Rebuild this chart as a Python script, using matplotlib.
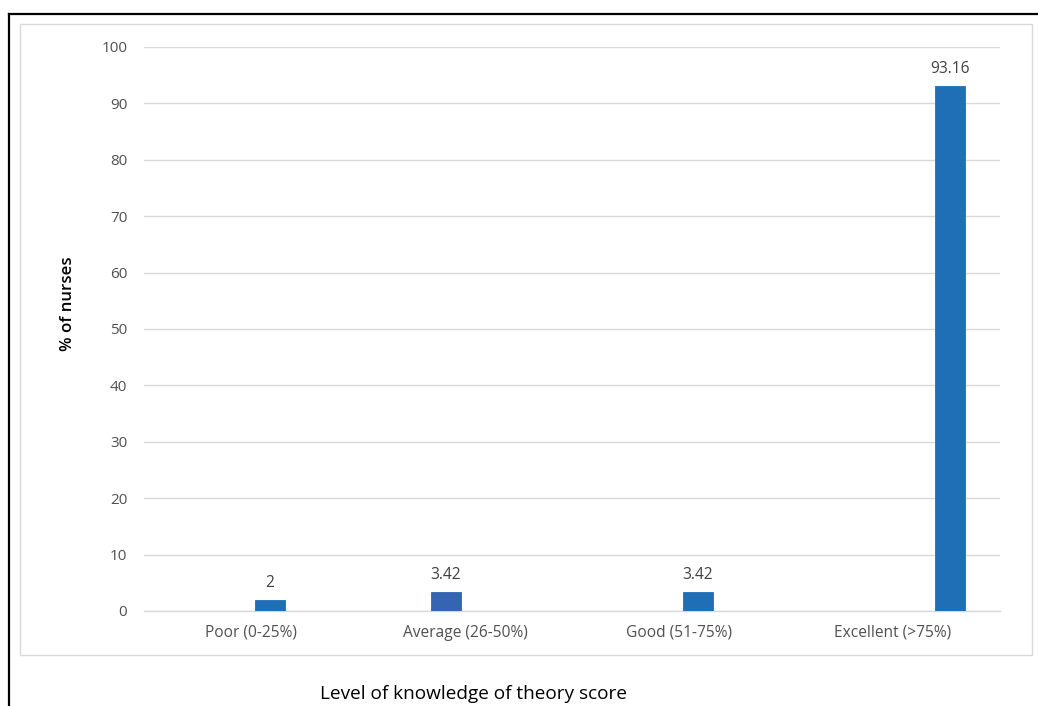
import matplotlib
matplotlib.use("Agg")
import matplotlib.pyplot as plt
from matplotlib.patches import Rectangle
from matplotlib.lines import Line2D
import numpy as np

plt.rcParams['font.family'] = ['Open Sans', 'DejaVu Sans']

# Knowledge levels and the clustered-series layout of the source workbook
categories = ["Poor (0-25%)", "Average (26-50%)", "Good (51-75%)", "Excellent (>75%)"]
series_1 = [None, None, None, None]
series_2 = [None, 3.42, None, None]
series_3 = [2, None, 3.42, None]
series_4 = [None, None, None, 93.16]
series_colors = ["#1F6FB7", "#3464B2", "#1F6FB7", "#1F6FB7"]
y_ticks = list(range(0, 101, 10))

W, H = 1038, 706
fig = plt.figure(figsize=(W / 100, H / 100), dpi=100)

ax = fig.add_axes([144 / W, 1 - 611 / H, (1000 - 144) / W, (611 - 47) / H])

all_series = [series_1, series_2, series_3, series_4]
n = len(all_series)
slot = 0.1776
bar_w = 0.14
x = np.arange(len(categories))
for k, (vals, col) in enumerate(zip(all_series, series_colors)):
    offset = (k - (n - 1) / 2) * slot
    for i, v in enumerate(vals):
        if v is None:
            continue
        ax.bar(x[i] + offset, v, width=bar_w, color=col, edgecolor=col,
               linewidth=0.6, zorder=3)
        ax.text(x[i] + offset, v + 1.5, f"{v:g}", ha="center", va="bottom",
                fontsize=11.2, color="#404040", zorder=4)

ax.set_xlim(-0.5, len(categories) - 0.5)
ax.set_ylim(0, 100)
ax.set_yticks(y_ticks)
ax.set_yticklabels([str(t) for t in y_ticks], fontsize=11, color="#505050")
ax.set_xticks(x)
ax.set_xticklabels(categories, fontsize=11.2, color="#505050")
ax.tick_params(axis="both", length=0)
ax.tick_params(axis="y", pad=12)
ax.tick_params(axis="x", pad=10)
ax.grid(axis="y", color="#D9D9D9", linewidth=1, zorder=0)
ax.set_axisbelow(True)
for s in ["top", "right", "left"]:
    ax.spines[s].set_visible(False)
ax.spines["bottom"].set_color("#D9D9D9")
ax.spines["bottom"].set_linewidth(1)

ax.set_ylabel("% of nurses", fontsize=12.2, fontweight="semibold", color="#000000")
ax.yaxis.set_label_coords((76 - 144) / (1000 - 144), (611 - 304) / (611 - 47))

fig.text(474 / W, 1 - 694 / H, "Level of knowledge of theory score",
         ha="center", va="center", fontsize=13.7, color="#000000")

# chart area border
fig.patches.append(Rectangle((20 / W, 1 - 655 / H), (1032 - 20) / W, (655 - 24) / H,
                             transform=fig.transFigure, fill=False,
                             edgecolor="#D9D9D9", linewidth=1))
# outer frame (left and top edges)
fig.lines.append(Line2D([9 / W, 9 / W], [0, 1 - 14 / H], transform=fig.transFigure,
                        color="black", linewidth=1.6))
fig.lines.append(Line2D([9 / W, 1], [1 - 14 / H, 1 - 14 / H], transform=fig.transFigure,
                        color="black", linewidth=1.6))

fig.savefig("out.png", dpi=100)
